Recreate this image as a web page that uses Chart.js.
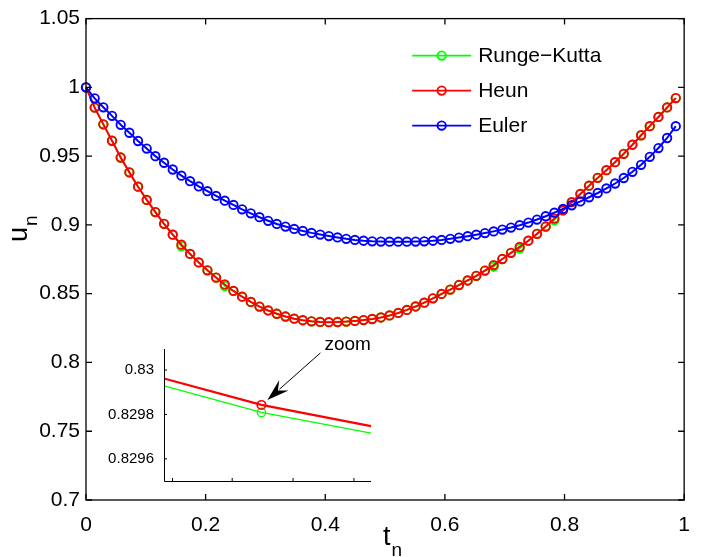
<!DOCTYPE html>
<html><head><meta charset="utf-8">
<script src="https://cdn.jsdelivr.net/npm/chart.js@4/dist/chart.umd.min.js"></script>
<style>
html,body{margin:0;padding:0;background:#fff;}
#wrap{position:relative;width:703px;height:557px;background:#fff;}
#main{position:absolute;left:0;top:0;}
#inset{position:absolute;left:95px;top:330px;}
</style></head><body>
<div id="wrap">
<canvas id="main" width="703" height="557"></canvas>
<canvas id="inset" width="285" height="170"></canvas>
</div>
<script>
// ---------- data ----------
const tn = [0, 0.0145, 0.029, 0.0435, 0.058, 0.0725, 0.087, 0.1015, 0.116, 0.1305,
  0.145, 0.1595, 0.174, 0.1885, 0.203, 0.2175, 0.232, 0.2465, 0.261, 0.2755,
  0.29, 0.3045, 0.319, 0.3335, 0.348, 0.3625, 0.377, 0.3915, 0.406, 0.4205,
  0.435, 0.4495, 0.464, 0.4785, 0.493, 0.5075, 0.522, 0.5365, 0.551, 0.5655,
  0.58, 0.5945, 0.609, 0.6235, 0.638, 0.6525, 0.667, 0.6815, 0.696, 0.7105,
  0.725, 0.7395, 0.754, 0.7685, 0.783, 0.7975, 0.812, 0.8265, 0.841, 0.8555,
  0.87, 0.8845, 0.899, 0.9135, 0.928, 0.9425, 0.957, 0.9715, 0.986];

const heun = [1.0000, 0.9853, 0.9731, 0.9612, 0.9490, 0.9382, 0.9278, 0.9182, 0.9093, 0.9008,
  0.8929, 0.8856, 0.8789, 0.8727, 0.8670, 0.8617, 0.8567, 0.8520, 0.8478, 0.8440,
  0.8406, 0.8378, 0.8354, 0.8334, 0.8318, 0.8307, 0.8299, 0.8295, 0.8293, 0.8294,
  0.8297, 0.8302, 0.8308, 0.8316, 0.8327, 0.8342, 0.8360, 0.8382, 0.8407, 0.8435,
  0.8466, 0.8498, 0.8530, 0.8563, 0.8596, 0.8630, 0.8668, 0.8708, 0.8752, 0.8797,
  0.8840, 0.8885, 0.8935, 0.8988, 0.9046, 0.9105, 0.9165, 0.9225, 0.9285, 0.9342,
  0.9398, 0.9456, 0.9517, 0.9583, 0.9652, 0.9718, 0.9785, 0.9854, 0.9922];

const rungeKutta = [1.0000, 0.9853, 0.9731, 0.9612, 0.9490, 0.9382, 0.9278, 0.9182, 0.9093, 0.9008,
  0.8929, 0.8844, 0.8789, 0.8727, 0.8670, 0.8617, 0.8555, 0.8520, 0.8478, 0.8440,
  0.8406, 0.8378, 0.8354, 0.8334, 0.8318, 0.8307, 0.8299, 0.8295, 0.8293, 0.8294,
  0.8297, 0.8302, 0.8308, 0.8316, 0.8327, 0.8342, 0.8360, 0.8382, 0.8407, 0.8435,
  0.8466, 0.8498, 0.8530, 0.8563, 0.8596, 0.8630, 0.8668, 0.8696, 0.8752, 0.8797,
  0.8828, 0.8885, 0.8935, 0.8988, 0.9034, 0.9105, 0.9165, 0.9225, 0.9285, 0.9342,
  0.9398, 0.9456, 0.9517, 0.9583, 0.9652, 0.9718, 0.9785, 0.9854, 0.9922];

const euler = [1.0000, 0.9920, 0.9855, 0.9793, 0.9728, 0.9670, 0.9610, 0.9555, 0.9500, 0.9452,
  0.9403, 0.9358, 0.9318, 0.9280, 0.9245, 0.9211, 0.9176, 0.9145, 0.9113, 0.9084,
  0.9056, 0.9030, 0.9007, 0.8988, 0.8971, 0.8956, 0.8942, 0.8930, 0.8919, 0.8909,
  0.8899, 0.8891, 0.8885, 0.8881, 0.8879, 0.8878, 0.8878, 0.8878, 0.8879, 0.8881,
  0.8885, 0.8891, 0.8899, 0.8908, 0.8918, 0.8929, 0.8941, 0.8953, 0.8966, 0.8981,
  0.8998, 0.9017, 0.9039, 0.9063, 0.9089, 0.9116, 0.9143, 0.9171, 0.9201, 0.9232,
  0.9265, 0.9301, 0.9341, 0.9386, 0.9437, 0.9495, 0.9559, 0.9632, 0.9718];

const seriesNames = ['Runge\u2212Kutta', 'Heun', 'Euler'];
const seriesColors = ['#00ff00', '#ff0000', '#0000ff'];

const xTicks = [0, 0.2, 0.4, 0.6, 0.8, 1];
const xTickLabels = ['0', '0.2', '0.4', '0.6', '0.8', '1'];
const yTicks = [0.7, 0.75, 0.8, 0.85, 0.9, 0.95, 1, 1.05];
const yTickLabels = ['0.7', '0.75', '0.8', '0.85', '0.9', '0.95', '1', '1.05'];

// inset (zoomed view)
const insetT = [0.4052, 0.4060, 0.4069];
const insetHeun = [0.829962, 0.829843, 0.829747];
const insetRK = [0.829929, 0.829809, 0.829716];
const insetXTicks = [0.40527, 0.40576, 0.40626, 0.40676];
const insetYTicks = [0.8296, 0.8298, 0.83];
const insetYTickLabels = ['0.8296', '0.8298', '0.83'];
const insetNote = 'zoom';

// ---------- helpers ----------
const FONT = '"Liberation Sans", Arial, Helvetica, sans-serif';
Chart.defaults.font.family = FONT;
Chart.defaults.color = '#000';
const pts = (xs, ys) => xs.map((x, i) => ({x: x, y: ys[i]}));

function series(i, ys, order, lw) {
  return {
    label: seriesNames[i], data: pts(tn, ys), borderColor: seriesColors[i],
    borderWidth: lw, pointRadius: 4.2, pointBorderWidth: 1.9,
    pointBackgroundColor: 'rgba(0,0,0,0)', pointBorderColor: seriesColors[i],
    pointStyle: 'circle', tension: 0, order: order, clip: false, fill: false
  };
}

const boxPlugin = {
  id: 'box',
  afterDraw(chart) {
    const {ctx, chartArea: a, scales: {x, y}} = chart;
    ctx.save();
    ctx.strokeStyle = '#000'; ctx.lineWidth = 1.3;
    ctx.strokeRect(a.left, a.top, a.right - a.left, a.bottom - a.top);
    const L = 6;
    ctx.beginPath();
    xTicks.forEach(v => {
      const p = x.getPixelForValue(v);
      ctx.moveTo(p, a.bottom); ctx.lineTo(p, a.bottom - L);
      ctx.moveTo(p, a.top); ctx.lineTo(p, a.top + L);
    });
    yTicks.forEach(v => {
      const p = y.getPixelForValue(v);
      ctx.moveTo(a.left, p); ctx.lineTo(a.left + L, p);
      ctx.moveTo(a.right, p); ctx.lineTo(a.right - L, p);
    });
    ctx.stroke();
    ctx.restore();
  }
};

const legendPlugin = {
  id: 'mlegend',
  afterDraw(chart) {
    const {ctx, chartArea: a} = chart;
    ctx.save();
    const x0 = a.right - 272, x1 = a.right - 213, xm = (x0 + x1) / 2, xt = a.right - 206;
    ctx.font = '21px ' + FONT; ctx.textBaseline = 'middle'; ctx.fillStyle = '#000';
    seriesNames.forEach((name, i) => {
      const yy = a.top + 37 + i * 35;
      ctx.strokeStyle = seriesColors[i]; ctx.lineWidth = 1.8;
      ctx.beginPath(); ctx.moveTo(x0, yy); ctx.lineTo(x1, yy); ctx.stroke();
      ctx.lineWidth = 1.9;
      ctx.beginPath(); ctx.arc(xm, yy, 4.2, 0, Math.PI * 2); ctx.stroke();
      ctx.fillText(name, xt, yy + 1);
    });
    ctx.restore();
  }
};

const titlePlugin = {
  id: 'titles',
  afterDraw(chart) {
    const {ctx, chartArea: a} = chart;
    ctx.save(); ctx.fillStyle = '#000'; ctx.textBaseline = 'alphabetic';
    // x title t_n
    const cx = (a.left + a.right) / 2;
    ctx.font = '27px ' + FONT;
    const wt = ctx.measureText('t').width;
    ctx.fillText('t', cx - 2, 545);
    ctx.font = '19px ' + FONT;
    ctx.fillText('n', cx - 2 + wt + 1, 556);
    // y title u_n
    ctx.translate(27, 242); ctx.rotate(-Math.PI / 2);
    ctx.font = '27px ' + FONT;
    const wu = ctx.measureText('u').width;
    ctx.fillText('u', 0, 0);
    ctx.font = '19px ' + FONT;
    ctx.fillText('n', wu + 1, 10);
    ctx.restore();
  }
};

new Chart(document.getElementById('main'), {
  type: 'line',
  data: {datasets: [
    series(0, rungeKutta, 3, 1.6),
    series(1, heun, 2, 2),
    series(2, euler, 1, 2)
  ]},
  options: {
    responsive: false, animation: false, devicePixelRatio: 1,
    layout: {padding: {left: 0, right: 4, top: 15, bottom: 0}},
    plugins: {legend: {display: false}, tooltip: {enabled: false}},
    scales: {
      x: {
        type: 'linear', min: 0, max: 1,
        afterBuildTicks: s => { s.ticks = xTicks.map(v => ({value: v})); },
        ticks: {callback: v => xTickLabels[xTicks.indexOf(v)], font: {size: 21}, padding: 13, maxRotation: 0, autoSkip: false},
        grid: {display: false, drawTicks: false}, border: {display: false},
        afterFit: s => { s.height = 57; }
      },
      y: {
        type: 'linear', min: 0.7, max: 1.05,
        afterBuildTicks: s => { s.ticks = yTicks.map(v => ({value: v})); },
        ticks: {callback: v => yTickLabels[yTicks.indexOf(v)], font: {size: 21}, padding: 6, autoSkip: false},
        grid: {display: false, drawTicks: false}, border: {display: false},
        afterFit: s => { s.width = 86; }
      }
    }
  },
  plugins: [boxPlugin, legendPlugin, titlePlugin]
});

// ---------- inset ----------
const insetPlugin = {
  id: 'insetdeco',
  afterDraw(chart) {
    const {ctx, chartArea: a, scales: {x, y}} = chart;
    ctx.save();
    ctx.strokeStyle = '#000'; ctx.lineWidth = 1;
    ctx.beginPath();
    ctx.moveTo(a.left + 0.5, a.top); ctx.lineTo(a.left + 0.5, a.bottom + 0.5); ctx.lineTo(a.right, a.bottom + 0.5);
    const L = 3;
    insetXTicks.forEach(v => { const p = x.getPixelForValue(v); ctx.moveTo(p, a.bottom); ctx.lineTo(p, a.bottom - L); });
    insetYTicks.forEach(v => { const p = y.getPixelForValue(v); ctx.moveTo(a.left, p); ctx.lineTo(a.left + L, p); });
    ctx.stroke();
    // annotation arrow pointing at the marker
    const mx = x.getPixelForValue(insetT[1]), my = y.getPixelForValue(insetHeun[1]);
    const tip = {x: mx + 6, y: my - 5}, tail = {x: mx + 59, y: my - 52};
    const dx = tip.x - tail.x, dy = tip.y - tail.y, len = Math.hypot(dx, dy);
    const ux = dx / len, uy = dy / len, px = -uy, py = ux;
    const HL = 20, HW = 7;
    const bx = tip.x - ux * HL, by = tip.y - uy * HL;
    ctx.beginPath(); ctx.moveTo(tail.x, tail.y); ctx.lineTo(bx + ux * 4, by + uy * 4); ctx.stroke();
    ctx.fillStyle = '#000';
    ctx.beginPath();
    ctx.moveTo(tip.x, tip.y);
    ctx.lineTo(bx + px * HW - ux * 2, by + py * HW - uy * 2);
    ctx.lineTo(tip.x - ux * HL * 0.7, tip.y - uy * HL * 0.7);
    ctx.lineTo(bx - px * HW - ux * 2, by - py * HW - uy * 2);
    ctx.closePath(); ctx.fill();
    ctx.font = '19px ' + FONT; ctx.textBaseline = 'alphabetic';
    ctx.fillText(insetNote, mx + 63, my - 55);
    ctx.restore();
  }
};

new Chart(document.getElementById('inset'), {
  type: 'line',
  data: {datasets: [
    {label: seriesNames[0], data: pts(insetT, insetRK), borderColor: seriesColors[0], borderWidth: 1.2,
     pointRadius: [0, 4.2, 0], pointBorderWidth: 1.3, pointBackgroundColor: 'rgba(0,0,0,0)',
     pointBorderColor: seriesColors[0], tension: 0, order: 2, clip: false},
    {label: seriesNames[1], data: pts(insetT, insetHeun), borderColor: seriesColors[1], borderWidth: 2.2,
     pointRadius: [0, 4.2, 0], pointBorderWidth: 1.6, pointBackgroundColor: 'rgba(0,0,0,0)',
     pointBorderColor: seriesColors[1], tension: 0, order: 1, clip: false}
  ]},
  options: {
    responsive: false, animation: false, devicePixelRatio: 1,
    layout: {padding: {left: 0, right: 9, top: 12, bottom: 0}},
    plugins: {legend: {display: false}, tooltip: {enabled: false}},
    scales: {
      x: {
        type: 'linear', min: insetT[0], max: insetT[2],
        afterBuildTicks: s => { s.ticks = insetXTicks.map(v => ({value: v})); },
        ticks: {display: false},
        grid: {display: false, drawTicks: false}, border: {display: false},
        afterFit: s => { s.height = 12; }
      },
      y: {
        type: 'linear', min: 0.82950, max: 0.830095,
        afterBuildTicks: s => { s.ticks = insetYTicks.map(v => ({value: v})); },
        ticks: {callback: v => insetYTickLabels[insetYTicks.indexOf(v)], font: {size: 15}, padding: 10, autoSkip: false},
        grid: {display: false, drawTicks: false}, border: {display: false},
        afterFit: s => { s.width = 69; }
      }
    }
  },
  plugins: [insetPlugin]
});
</script>
</body></html>
